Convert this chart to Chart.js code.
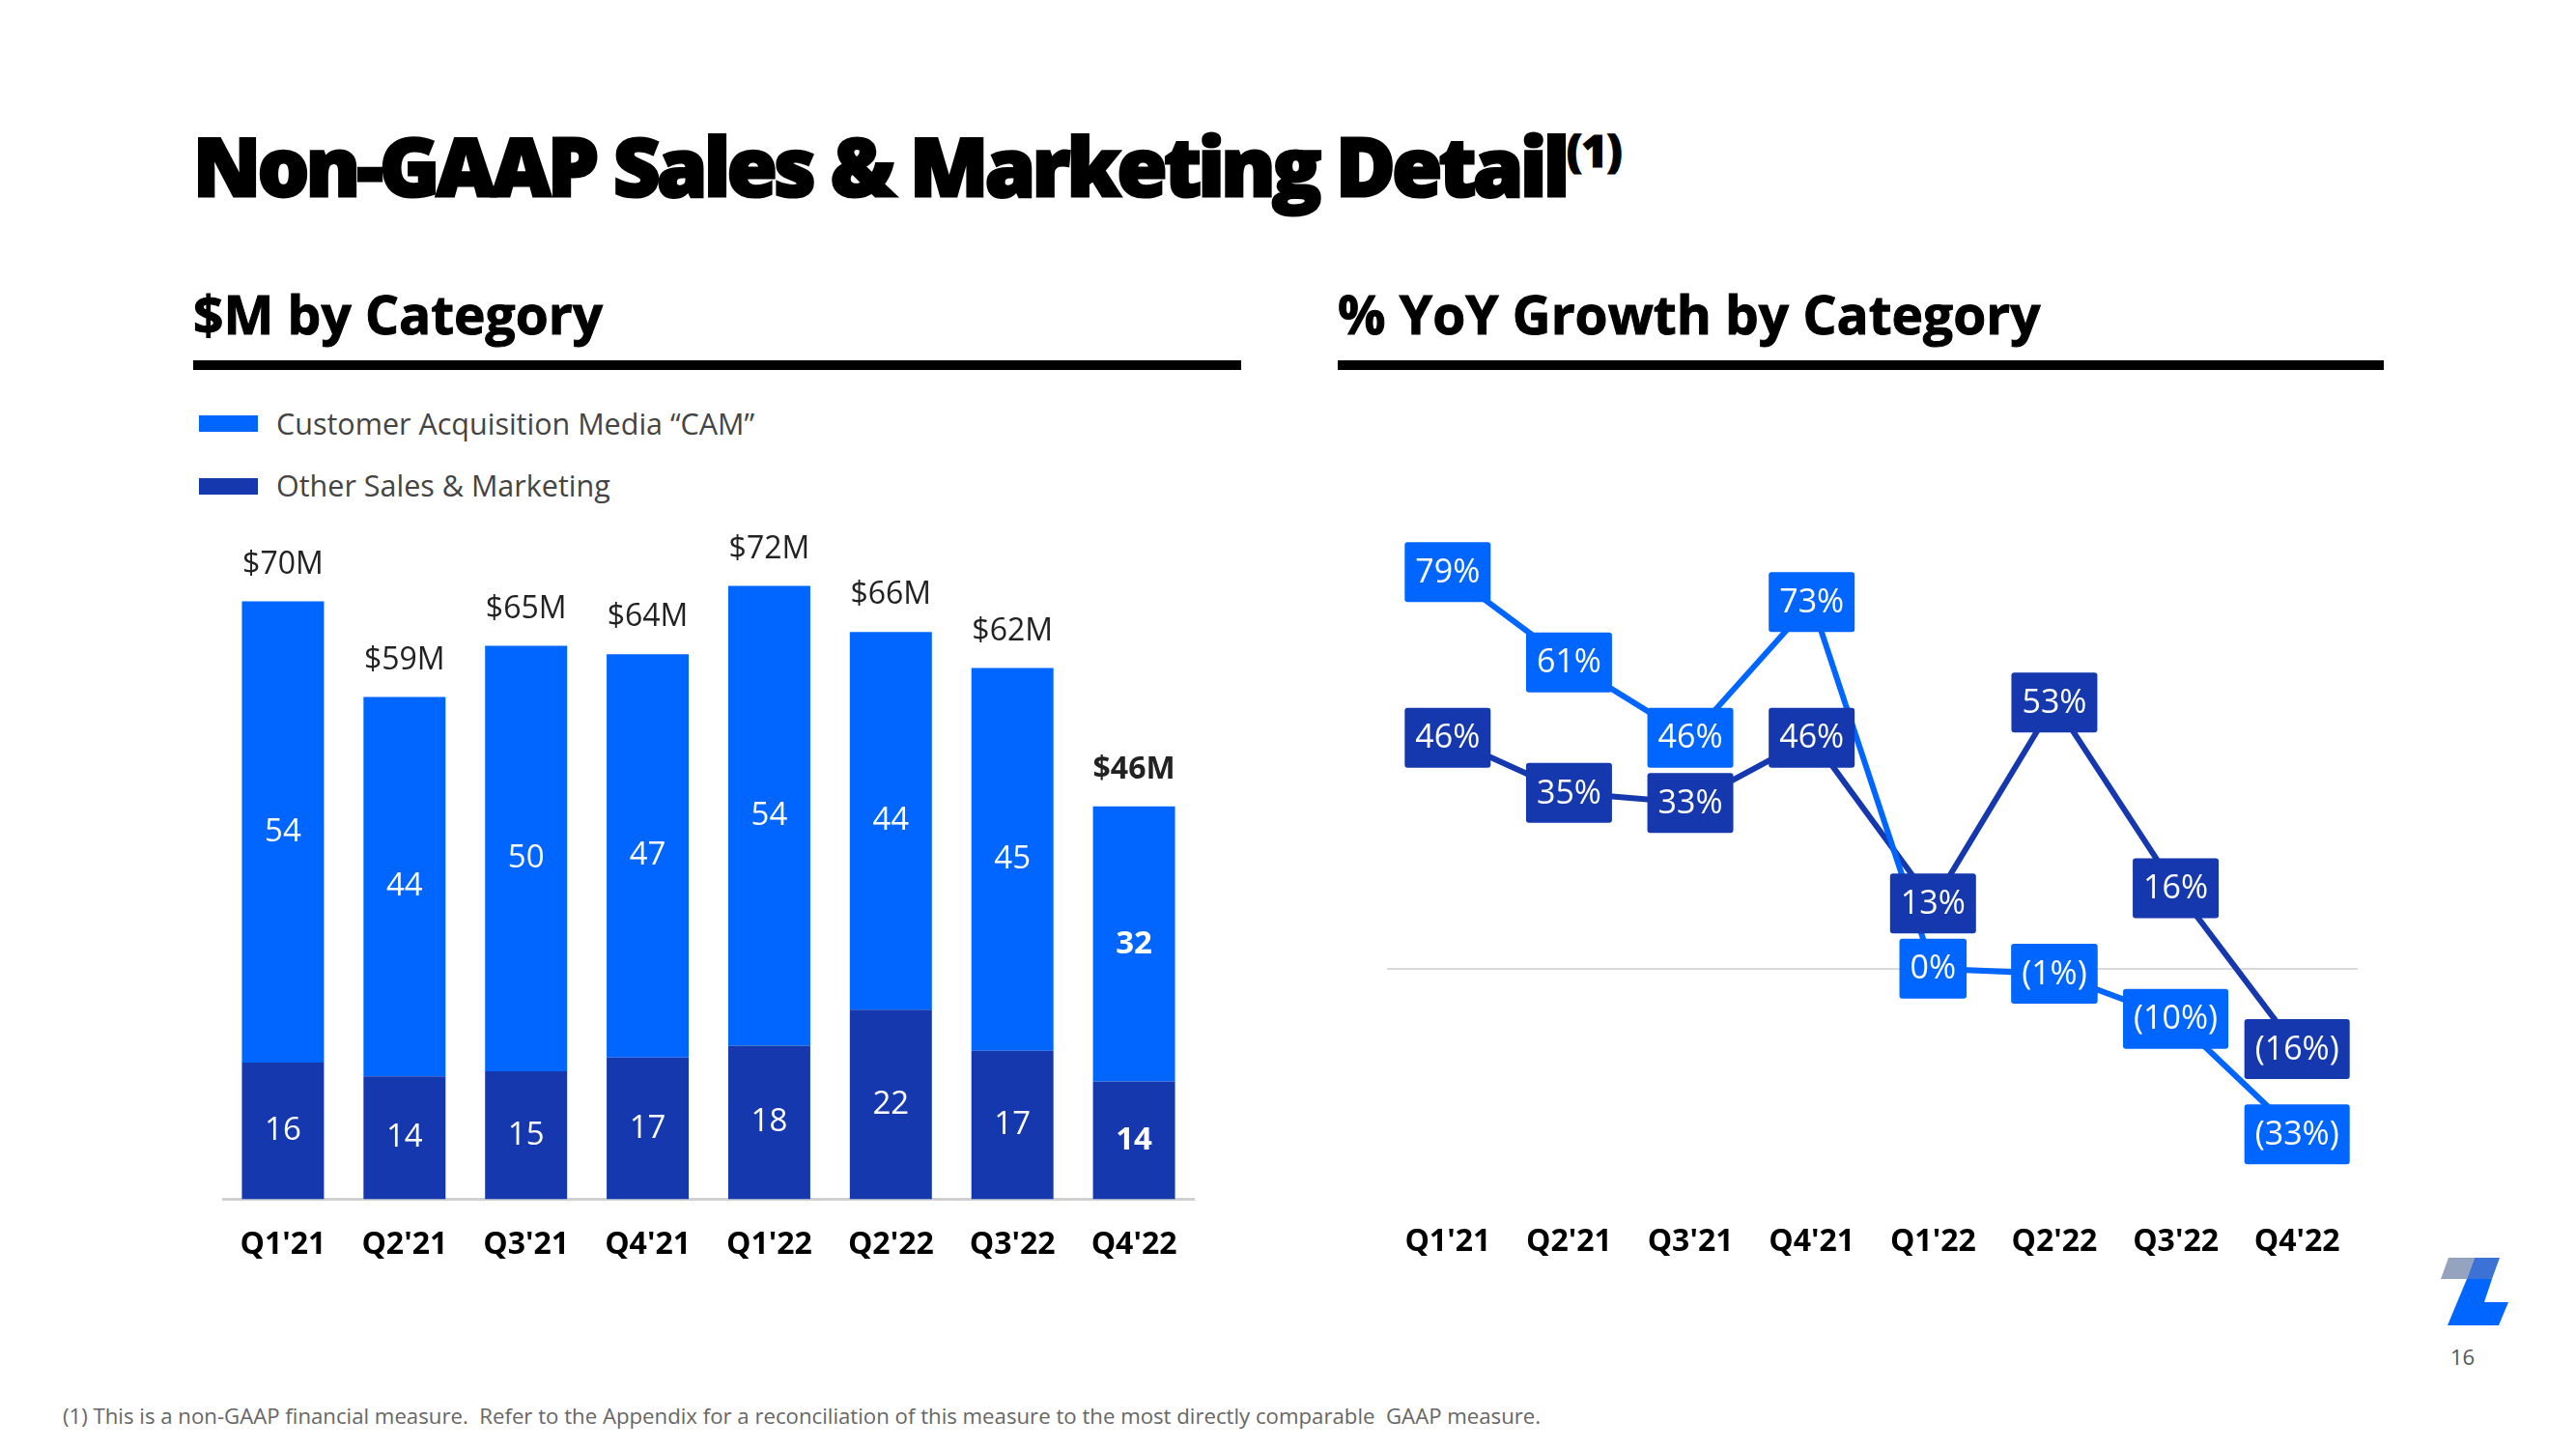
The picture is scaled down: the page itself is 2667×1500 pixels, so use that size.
<!DOCTYPE html>
<html>
<head>
<meta charset="utf-8">
<script src="https://cdn.jsdelivr.net/npm/chart.js@4.4.0/dist/chart.umd.min.js"></script>
<style>
  body { margin: 0; width: 2667px; height: 1500px; background: #fff; position: relative; overflow: hidden; font-family: "Open Sans", sans-serif; }
  .t { position: absolute; margin: 0; line-height: 1; white-space: nowrap; }
  .bar { position: absolute; height: 10px; background: #000; }
  .sq { position: absolute; width: 61px; height: 17px; }
</style>
</head>
<body>
<div class="t" style="left:200px; top:129px; font-size:84px; font-weight:800; color:#000; letter-spacing:-3.4px; -webkit-text-stroke:3px #000;">Non-GAAP Sales &amp; Marketing Detail<sup style="font-size:46px; vertical-align:30px; letter-spacing:-1px; -webkit-text-stroke:1px #000;">(1)</sup></div>

<div class="t" style="left:200px; top:297px; font-size:55px; font-weight:700; -webkit-text-stroke:1px #000;">$M by Category</div>
<div class="t" style="left:1385px; top:297px; font-size:55px; font-weight:700; -webkit-text-stroke:1px #000;">% YoY Growth by Category</div>
<div class="bar" style="left:200px; top:373px; width:1085px;"></div>
<div class="bar" style="left:1385px; top:373px; width:1083px;"></div>

<div class="sq" style="left:206px; top:430px; background:#0066FF;"></div>
<div class="t" style="left:286px; top:423px; font-size:30.5px; color:#444;">Customer Acquisition Media “CAM”</div>
<div class="sq" style="left:206px; top:495px; background:#1538AF;"></div>
<div class="t" style="left:286px; top:487px; font-size:30.5px; color:#444;">Other Sales &amp; Marketing</div>

<canvas id="bars" style="position:absolute; left:230px; top:500px;" width="1007" height="836"></canvas>
<canvas id="growth" style="position:absolute; left:1436px; top:503px;" width="1005" height="832"></canvas>

<svg style="position:absolute; left:2520px; top:1295px;" width="90" height="85" viewBox="2520 1295 90 85">
  <polygon points="2527,1324 2535,1302 2562,1302 2554,1324" fill="#95A3BF"/>
  <polygon points="2554,1324 2562,1302 2588,1302 2580,1324" fill="#3C72D6"/>
  <polygon points="2554,1324 2580,1324 2572,1348 2597,1348 2587,1372 2534,1372" fill="#0066FF"/>
</svg>
<div class="t" style="left:2537px; top:1393px; font-size:22px; color:#555;">16</div>

<div class="t" style="left:65px; top:1455px; font-size:22.2px; color:#666;">(1) This is a non-GAAP financial measure.&nbsp; Refer to the Appendix for a reconciliation of this measure to the most directly comparable&nbsp; GAAP measure.</div>

<script>
const quarters = ["Q1'21", "Q2'21", "Q3'21", "Q4'21", "Q1'22", "Q2'22", "Q3'22", "Q4'22"];
// $M by category
const camSpend = [54.0, 44.4, 49.8, 47.2, 53.8, 44.2, 44.8, 32.2];
const otherSpend = [16.0, 14.4, 15.0, 16.6, 18.0, 22.2, 17.4, 13.8];
// % YoY growth
const camGrowth = [79, 61, 46, 73, 0, -1, -10, -33];
const otherGrowth = [46, 35, 33, 46, 13, 53, 16, -16];

const CAM_BLUE = "#0066FF";
const OTHER_BLUE = "#1538AF";
const FONT = "'Open Sans', sans-serif";

Chart.defaults.font.family = FONT;
Chart.defaults.animation = false;

// keep the category axis edge to edge (no extra room for the outer labels)
const noSidePad = scale => { scale.paddingLeft = 0; scale.paddingRight = 0; };

const barLabels = {
    id: "barLabels",
    afterDatasetsDraw(chart) {
        const ctx = chart.ctx;
        ctx.save();
        ctx.textAlign = "center";
        ctx.textBaseline = "middle";
        chart.data.datasets.forEach((ds, di) => {
            chart.getDatasetMeta(di).data.forEach((bar, i) => {
                const last = i === quarters.length - 1;
                ctx.font = (last ? "700 " : "400 ") + "33px " + FONT;
                ctx.fillStyle = "#fff";
                ctx.fillText(Math.round(ds.data[i]), bar.x, (bar.y + bar.base) / 2);
            });
        });
        // totals on top
        chart.getDatasetMeta(1).data.forEach((bar, i) => {
            const last = i === quarters.length - 1;
            const total = Math.round(camSpend[i] + otherSpend[i]);
            ctx.font = (last ? "700 " : "400 ") + "32px " + FONT;
            ctx.fillStyle = "#222";
            ctx.fillText("$" + total + "M", bar.x, bar.y - 38);
        });
        ctx.restore();
    }
};

new Chart(document.getElementById("bars"), {
    type: "bar",
    data: {
        labels: quarters,
        datasets: [
            { label: "Other Sales & Marketing", data: otherSpend, backgroundColor: OTHER_BLUE },
            { label: "Customer Acquisition Media", data: camSpend, backgroundColor: CAM_BLUE }
        ]
    },
    options: {
        responsive: false,
        layout: { padding: { top: 34 } },
        datasets: { bar: { barPercentage: 0.675, categoryPercentage: 1 } },
        plugins: { legend: { display: false }, tooltip: { enabled: false } },
        scales: {
            x: {
                stacked: true,
                afterFit: noSidePad,
                grid: { display: false, drawTicks: false },
                border: { display: true, color: "#d0d0d0", width: 3 },
                ticks: { color: "#000", font: { size: 32, weight: "700" }, padding: 28 }
            },
            y: { stacked: true, display: false, min: 0, max: 80 }
        }
    },
    plugins: [barLabels]
});

const pctText = v => v < 0 ? "(" + (-v) + "%)" : v + "%";

const boxLabels = {
    id: "boxLabels",
    afterDatasetsDraw(chart) {
        const ctx = chart.ctx;
        ctx.save();
        ctx.font = "34px " + FONT;
        ctx.textAlign = "center";
        ctx.textBaseline = "middle";
        chart.data.datasets.forEach((ds, di) => {
            chart.getDatasetMeta(di).data.forEach((pt, i) => {
                const txt = pctText(ds.data[i]);
                const w = ctx.measureText(txt).width + 22;
                const h = 62;
                ctx.fillStyle = ds.borderColor;
                ctx.beginPath();
                ctx.roundRect(pt.x - w / 2, pt.y - h / 2, w, h, 3);
                ctx.fill();
                ctx.fillStyle = "#fff";
                ctx.fillText(txt, pt.x, pt.y + 1);
            });
        });
        ctx.restore();
    }
};

new Chart(document.getElementById("growth"), {
    type: "line",
    data: {
        labels: quarters,
        datasets: [
            { label: "CAM", data: camGrowth, borderColor: CAM_BLUE, borderWidth: 6, pointRadius: 0, tension: 0 },
            { label: "Other", data: otherGrowth, borderColor: OTHER_BLUE, borderWidth: 6, pointRadius: 0, tension: 0 }
        ]
    },
    options: {
        responsive: false,
        layout: { padding: { top: 32 } },
        plugins: { legend: { display: false }, tooltip: { enabled: false } },
        scales: {
            x: {
                offset: true,
                afterFit: noSidePad,
                grid: { display: false, drawTicks: false },
                border: { display: false },
                ticks: { color: "#000", font: { size: 32, weight: "700" }, padding: 30 }
            },
            y: {
                min: -45, max: 90,
                ticks: { display: false, stepSize: 5 },
                border: { display: false },
                grid: { drawTicks: false, lineWidth: 2, color: c => c.tick.value === 0 ? "#d9d9d9" : "transparent" }
            }
        }
    },
    plugins: [boxLabels]
});
</script>
</body>
</html>
